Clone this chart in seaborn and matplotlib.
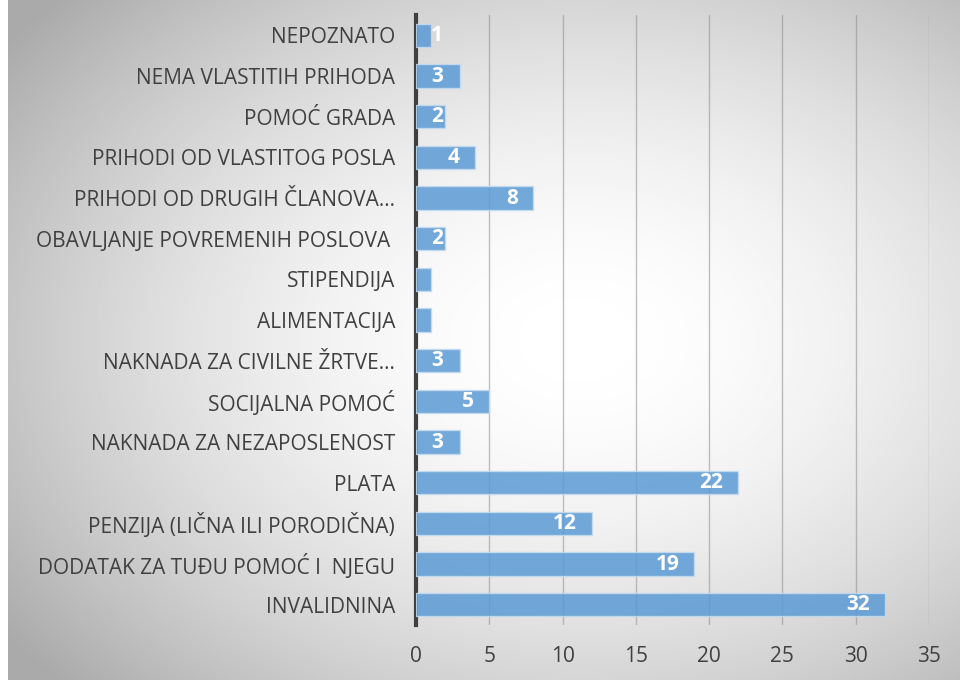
import numpy as np
import pandas as pd
import matplotlib
matplotlib.use("Agg")
import matplotlib.pyplot as plt
import matplotlib.transforms as mtransforms
import seaborn as sns

categories = [
    "NEPOZNATO",
    "NEMA VLASTITIH PRIHODA",
    "POMOĆ GRADA",
    "PRIHODI OD VLASTITOG POSLA",
    "PRIHODI OD DRUGIH ČLANOVA…",
    "OBAVLJANJE POVREMENIH POSLOVA ",
    "STIPENDIJA",
    "ALIMENTACIJA",
    "NAKNADA ZA CIVILNE ŽRTVE…",
    "SOCIJALNA POMOĆ",
    "NAKNADA ZA NEZAPOSLENOST",
    "PLATA",
    "PENZIJA (LIČNA ILI PORODIČNA)",
    "DODATAK ZA TUĐU POMOĆ I  NJEGU",
    "INVALIDNINA",
]
counts = [1, 3, 2, 4, 8, 2, 1, 1, 3, 5, 3, 22, 12, 19, 32]
# which bars carry a visible value label (Excel hid the tiny ones)
show_label = [True, True, True, True, True, True, False, False, True, True, True, True, True, True, True]
x_ticks = [0, 5, 10, 15, 20, 25, 30, 35]

df = pd.DataFrame({"kategorija": categories, "broj": counts})

sns.set_style("white")
plt.rcParams["font.family"] = ["Open Sans", "DejaVu Sans"]

fig = plt.figure(figsize=(9.6, 6.8), dpi=100)
fig.patch.set_facecolor("white")

# radial grey gradient behind the whole chart area
bg = fig.add_axes([8 / 960, 0, 1 - 8 / 960, 1], zorder=0)
yy, xx = np.mgrid[0:1:340j, 0:1:476j]
r = np.sqrt(((xx - 0.6) / 0.62) ** 2 + ((yy - 0.5) / 0.62) ** 2)
shade = 1 - 0.24 * np.clip(r, 0, 1.2) ** 1.8
bg.imshow(shade, cmap="gray", vmin=0, vmax=1, aspect="auto",
          extent=[0, 1, 0, 1], interpolation="bilinear")
bg.axis("off")

ax = fig.add_axes([416 / 960, 1 - 625 / 680, (929 - 416) / 960, 610 / 680], zorder=1)
ax.patch.set_alpha(0)

sns.barplot(data=df, x="broj", y="kategorija", orient="h", ax=ax,
            color="#5b9bd5", saturation=1, alpha=0.85, width=0.57,
            edgecolor="#c5dcf0", linewidth=1, zorder=3)

ax.set_xlim(0, 35)
ax.set_xticks(x_ticks)
ax.set_xlabel("")
ax.set_ylabel("")
ax.xaxis.grid(True, color="#8c8c8c", alpha=0.55, linewidth=1)
ax.set_axisbelow(True)
for s in ["top", "right", "bottom"]:
    ax.spines[s].set_visible(False)
ax.spines["left"].set_color("#404040")
ax.spines["left"].set_linewidth(3)
ax.tick_params(axis="both", length=0, colors="#404040", labelsize=15)
ax.tick_params(axis="x", pad=15)
ax.tick_params(axis="y", pad=15)

# value labels inside the bar ends
right_off = mtransforms.offset_copy(ax.transData, fig=fig, x=-11, y=0, units="points")
left_off = mtransforms.offset_copy(ax.transData, fig=fig, x=11, y=0, units="points")
for i, (v, show) in enumerate(zip(counts, show_label)):
    if not show:
        continue
    if v > 3:
        ax.text(v, i, str(v), transform=right_off, ha="right", va="center",
                color="white", fontsize=15, fontweight="bold", zorder=5)
    else:
        ax.text(0, i, str(v), transform=left_off, ha="left", va="center",
                color="white", fontsize=15, fontweight="bold", zorder=5)

fig.savefig("out.png", dpi=100)
